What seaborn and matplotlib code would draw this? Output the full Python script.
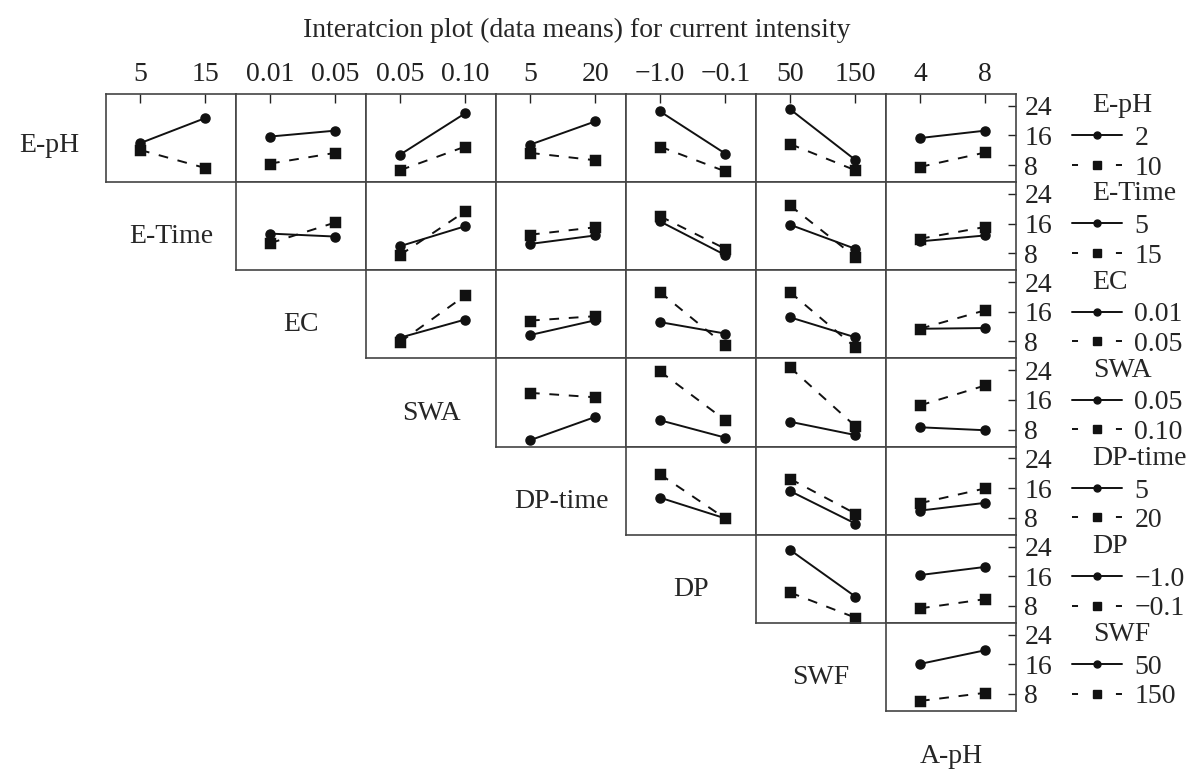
import pandas as pd
import seaborn as sns
import matplotlib.pyplot as plt
from matplotlib.lines import Line2D

# factors: rows are the "trace" factor, columns the x factor
row_names = ["E-pH", "E-Time", "EC", "SWA", "DP-time", "DP", "SWF"]
col_names = ["E-Time", "EC", "SWA", "DP-time", "DP", "SWF", "A-pH"]
row_levels = [["2", "10"], ["5", "15"], ["0.01", "0.05"], ["0.05", "0.10"],
              ["5", "20"], ["\u22121.0", "\u22120.1"], ["50", "150"]]
col_levels = [["5", "15"], ["0.01", "0.05"], ["0.05", "0.10"], ["5", "20"],
              ["\u22121.0", "\u22120.1"], ["50", "150"], ["4", "8"]]

# data means (current intensity), one pair per panel, panels left to right
# _lo = low level of row factor (solid, circle), _hi = high level (dashed, square)
e_ph_lo = [[13.9, 20.7], [15.7, 17.3], [10.8, 22.0], [13.5, 19.8], [22.5, 11.1], [23.1, 9.4], [15.3, 17.3]]
e_ph_hi = [[12.1, 7.2], [8.4, 11.3], [6.6, 13.0], [11.3, 9.3], [13.0, 6.3], [13.7, 6.6], [7.5, 11.4]]
e_time_lo = [[13.3, 12.5], [9.9, 15.3], [10.5, 12.8], [16.6, 7.5], [15.7, 9.2], [11.2, 12.8]]
e_time_hi = [[10.7, 16.3], [7.5, 19.3], [13.0, 15.0], [18.0, 9.2], [20.9, 7.0], [11.9, 15.1]]
ec_lo = [[9.0, 13.9], [9.7, 13.7], [13.2, 10.1], [14.5, 9.1], [11.4, 11.6]]
ec_hi = [[7.8, 20.4], [13.6, 14.8], [21.3, 6.9], [21.3, 6.4], [11.4, 16.4]]
swa_lo = [[5.1, 11.4], [10.5, 5.8], [10.1, 6.5], [8.6, 7.8]]
swa_hi = [[17.9, 16.7], [23.7, 10.5], [24.8, 8.9], [14.5, 19.9]]
dp_time_lo = [[13.4, 7.8], [15.2, 6.4], [9.9, 12.0]]
dp_time_hi = [[19.7, 7.8], [18.5, 9.1], [11.9, 15.9]]
dp_lo = [[23.1, 10.5], [16.3, 18.5]]
dp_hi = [[11.6, 4.8], [7.3, 9.8]]
swf_lo = [[16.1, 19.8]]
swf_hi = [[6.1, 8.3]]

lo_means = [e_ph_lo, e_time_lo, ec_lo, swa_lo, dp_time_lo, dp_lo, swf_lo]
hi_means = [e_ph_hi, e_time_hi, ec_hi, swa_hi, dp_time_hi, dp_hi, swf_hi]

rows = []
for i in range(7):
    for k, j in enumerate(range(i, 7)):
        for lev, vals in zip(row_levels[i], [lo_means[i][k], hi_means[i][k]]):
            for xl, v in zip(col_levels[j], vals):
                rows.append({"row": i, "col": j, "rlev": lev, "xlev": xl, "mean": v})
df = pd.DataFrame(rows)

sns.set_style("white")
plt.rcParams["font.family"] = ["Liberation Serif", "DejaVu Serif"]
plt.rcParams["font.size"] = 20

fig, axes = plt.subplots(7, 7, figsize=(11.94, 7.76), dpi=100, sharey=True)
fig.subplots_adjust(left=0.0888, right=0.8509, top=0.8789, bottom=0.0838,
                    wspace=0, hspace=0)

for i in range(7):
    for j in range(7):
        ax = axes[i, j]
        if j < i:
            ax.axis("off")
            continue
        d = df[(df["row"] == i) & (df["col"] == j)]
        sns.pointplot(data=d, x="xlev", y="mean", hue="rlev",
                      order=col_levels[j], hue_order=row_levels[i],
                      palette=["#111111", "#111111"], markers=["o", "s"],
                      linestyles=["-", (0, (5, 5))], errorbar=None,
                      markersize=6.5, linewidth=1.4, legend=False, ax=ax)
        ax.set_xlabel("")
        ax.set_ylabel("")
        ax.set_xlim(-0.52, 1.47)
        ax.tick_params(left=False, bottom=False, labelleft=False, labelbottom=False)
        for s in ax.spines.values():
            s.set_color("#444444")
            s.set_linewidth(1.2)
        if i == 0:
            ax.xaxis.set_ticks_position("top")
            ax.set_xticks([0, 1])
            ax.set_xticklabels(col_levels[j])
            ax.tick_params(axis="x", top=True, labeltop=True, direction="in",
                           length=6.5, width=1.0, pad=5, colors="#222222")

axes[0, 0].set_ylim(3.4, 27.2)
axes[0, 0].set_yticks([8, 16, 24])

for i in range(7):
    ax = axes[i, 6]
    ax.yaxis.set_ticks_position("right")
    ax.tick_params(axis="y", right=True, labelright=True, direction="in",
                   length=6, width=1.0, pad=6, colors="#222222")
    # legend title and entries for the row factor
    ax.text(1.59, 24, row_names[i], transform=ax.get_yaxis_transform(),
            ha="left", va="center")
    handles = [Line2D([], [], color="#111111", marker="o", ls="-", lw=1.4, ms=5),
               Line2D([], [], color="#111111", marker="s", ls=(0, (3.1, 8.2)), lw=1.4, ms=6)]
    ax.legend(handles, row_levels[i], loc="center left", bbox_to_anchor=(1.43, 0.33),
              frameon=False, handlelength=1.8, handletextpad=0.45, labelspacing=0.15,
              borderpad=0, borderaxespad=0)

# row factor names on the diagonal
axes[0, 0].text(-0.44, 0.42, row_names[0], transform=axes[0, 0].transAxes,
                ha="center", va="center")
for i in range(1, 7):
    axes[i, i - 1].text(0.5, 0.38, row_names[i], transform=axes[i, i - 1].transAxes,
                        ha="center", va="center")
axes[6, 6].text(0.5, -0.52, "A-pH", transform=axes[6, 6].transAxes,
                ha="center", va="center")

fig.text(0.483, 0.961, "Interatcion plot (data means) for current intensity",
         ha="center", va="center")

fig.savefig("out.png", dpi=100)
